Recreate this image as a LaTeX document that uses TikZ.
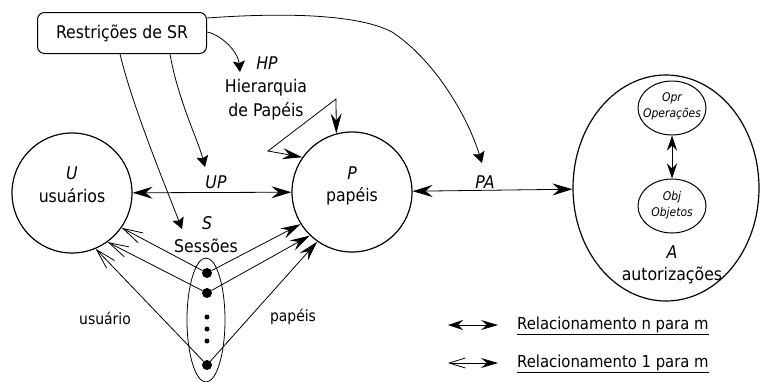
\documentclass[tikz,border=0pt]{standalone}
\usepackage{fontspec}
\setmainfont{DejaVu Sans Condensed}
\usetikzlibrary{arrows.meta,shapes.geometric}
\begin{document}
\begin{tikzpicture}[x=1pt,y=-1pt,
  every node/.style={inner sep=0pt},
  lbl/.style={font=\fontsize{17.5}{21}\selectfont},
  ilbl/.style={font=\fontsize{17.5}{21}\selectfont\itshape},
  slbl/.style={font=\fontsize{15.5}{18}\selectfont},
  tlbl/.style={font=\fontsize{12}{14}\selectfont\itshape},
  leg/.style={font=\fontsize{16.5}{19}\selectfont, anchor=west},
  circ/.style={draw, circle, line width=1.2pt},
  ell/.style={draw, ellipse, line width=1pt},
  dotbig/.style={circle, fill, minimum size=10pt},
  dotsm/.style={circle, fill, minimum size=5pt},
  conn/.style={line width=0.8pt},
  bi/.style={{Stealth[length=20pt,width=12pt,inset=7pt]}-{Stealth[length=20pt,width=12pt,inset=7pt]}},
  bimid/.style={{Stealth[length=15pt,width=10pt,inset=5pt]}-{Stealth[length=15pt,width=10pt,inset=5pt]}},
  big/.style={-{Stealth[length=20pt,width=11pt,inset=7pt]}},
  sm/.style={-{Stealth[length=11pt,width=12pt,inset=2pt]}},
  onem/.style={-{Straight Barb[length=20pt,width=11pt]}},
  legnm/.style={{Stealth[length=15pt,width=10pt,inset=5pt]}-{Stealth[length=17pt,width=10pt,inset=6pt]}},
  leg1m/.style={{Straight Barb[length=16pt,width=10pt]}-{Stealth[length=17pt,width=10pt,inset=6pt]}}
]
\useasboundingbox (0,0) rectangle (761,381);

% main shapes
\node[draw, rounded corners=7pt, line width=1pt, minimum width=169pt, minimum height=41pt, lbl] (R) at (122,33) {Restrições de SR};
\node[circ, minimum size=120pt] (U) at (72,193) {};
\node[circ, minimum size=120pt] (P) at (352,192) {};
\node[ell, line width=1.2pt, minimum width=186pt, minimum height=226pt] (A) at (666,188) {};
\node[ell, minimum width=68pt, minimum height=54pt] (Opr) at (672,108) {};
\node[ell, minimum width=68pt, minimum height=54pt] (Obj) at (672,206) {};
\node[draw, ellipse, line width=0.8pt, minimum width=38pt, minimum height=124pt] (Ses) at (206,320) {};

% texts
\node[ilbl] (Ut) at (72,173) {U};
\node[lbl] (Ul) at (72,196) {usuários};
\node[ilbl] (Pt) at (352,173) {P};
\node[lbl] (Pl) at (352,196) {papéis};
\node[ilbl] (UPt) at (216,182) {UP};
\node[ilbl] (PAt) at (485,182) {PA};
\node[ilbl] (HPt) at (267,63) {HP};
\node[lbl] (HPl1) at (266,88) {Hierarquia};
\node[lbl] (HPl2) at (266,111) {de Papéis};
\node[ilbl] (St) at (207,223) {S};
\node[lbl] (Sl) at (206,246) {Sessões};
\node[ilbl] (At) at (672,252) {A};
\node[lbl] (Al) at (672,275) {autorizações};
\node[tlbl] (Oprt) at (672,98) {Opr};
\node[tlbl] (Oprl) at (672,114) {Operações};
\node[tlbl] (Objt) at (672,197) {Obj};
\node[tlbl] (Objl) at (672,213) {Objetos};
\node[slbl] (usu) at (105,318) {usuário};
\node[slbl] (pap) at (293,317) {papéis};

% session dots
\node[dotbig] (d1) at (207,273) {};
\node[dotbig] (d2) at (207,293) {};
\node[dotbig] (d3) at (207,365) {};
\node[dotsm] (s1) at (207,317) {};
\node[dotsm] (s2) at (207,329) {};
\node[dotsm] (s3) at (207,341) {};

% main relations
\draw[conn, bi] (U) -- (P);
\draw[conn, bi] (P) -- (A);
\draw[conn, bimid] (Opr) -- (Obj);

% sessions to users and roles
\draw[conn, onem] (d1) -- (U.-35);
\draw[conn, onem] (d2) -- (U.-54);
\draw[conn, onem] (d3) -- (U.-67);
\draw[conn, big] (d1) -- (P.-148);
\draw[conn, big] (d2) -- (P.-134);
\draw[conn, big] (d3) -- (P.-125);

% role hierarchy loop
\coordinate (hpL) at (268,151);
\coordinate (hpU) at (336,99);
\draw[conn, line join=miter, {Stealth[length=20pt,width=11pt,inset=7pt]}-{Stealth[length=20pt,width=11pt,inset=7pt]}] (P.145) -- (hpL) -- (hpU) -- (P.105);

% constraints
\coordinate (hpTip) at (240,72);
\coordinate (upTip) at (205,167);
\coordinate (sTip) at (182,229);
\coordinate (paTip) at (482,163);
\draw[conn, sm] ([yshift=1pt]R.east) .. controls (222,35) and (238,52) .. (hpTip);
\draw[conn, sm] ([xshift=48pt]R.south) .. controls (178,100) and (198,140) .. (upTip);
\draw[conn, sm] ([xshift=-2pt]R.south) .. controls (132,105) and (165,185) .. (sTip);
\draw[conn, sm] ([yshift=-6pt]R.north east) .. controls (290,12) and (360,15) .. (392,32) .. controls (432,58) and (466,112) .. (paTip);

% legend
\coordinate (l1a) at (448,325);
\coordinate (l1b) at (498,325);
\coordinate (l2a) at (448,363);
\coordinate (l2b) at (498,363);
\draw[conn, legnm] (l1a) -- (l1b);
\draw[conn, leg1m] (l2a) -- (l2b);
\node[leg] (leg1) at (517,326) {\underline{Relacionamento n para m}};
\node[leg] (leg2) at (517,364) {\underline{Relacionamento 1 para m}};
\end{tikzpicture}
\end{document}
